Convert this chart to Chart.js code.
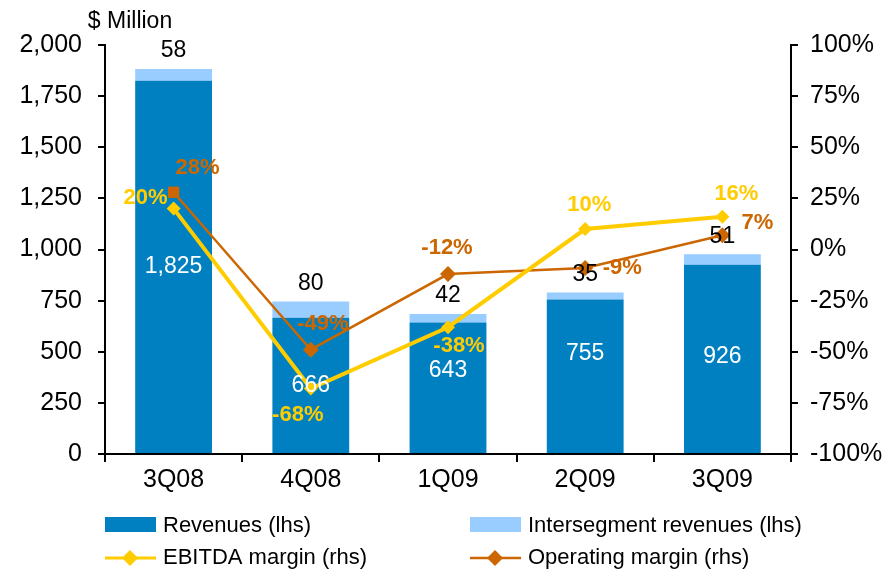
<!DOCTYPE html>
<html>
<head>
    <meta charset="utf-8">
    <title>Revenues and margins</title>
    <script src="https://cdn.jsdelivr.net/npm/chart.js"></script>
    <style>
        html, body { margin: 0; padding: 0; background: #fff; }
        #wrap { position: relative; width: 888px; height: 569px; }
    </style>
</head>
<body>
    <div id="wrap">
        <canvas id="marginChart" width="888" height="569"></canvas>
    </div>
    <script>
        // data
        var quarters = ['3Q08', '4Q08', '1Q09', '2Q09', '3Q09'];
        var revenues = [1825, 666, 643, 755, 926];
        var intersegment = [58, 80, 42, 35, 51];
        var ebitdaMargin = [20, -68, -38, 10, 16];
        var operatingMargin = [28, -49, -12, -9, 7];
        var leftTicks = [0, 250, 500, 750, 1000, 1250, 1500, 1750, 2000];
        var rightTicks = [-100, -75, -50, -25, 0, 25, 50, 75, 100];

        var FONT = "'Liberation Sans', Arial, sans-serif";
        var BLUE = '#0080C0';
        var LIGHT = '#99CCFF';
        var YELLOW = '#FFCC00';
        var ORANGE = '#CC6600';

        // label nudges (pixels), per point
        var revDy = [0, 0, -17, -23, -2];
        var ebitdaOff = [[-28, -11], [-13, 26], [11, 19], [4, -24], [14, -23]];
        var opOff = [[24, -24], [12, -26], [-1, -26], [37, 0], [35, -12]];

        function fmt(n) {
            return n.toLocaleString('en-US');
        }

        var labelPlugin = {
            id: 'labels',
            afterDatasetsDraw: function(chart) {
                var ctx = chart.ctx;
                ctx.save();
                ctx.textAlign = 'center';
                ctx.textBaseline = 'middle';

                var revMeta = chart.getDatasetMeta(0);
                var segMeta = chart.getDatasetMeta(1);
                ctx.font = '23px ' + FONT;
                revMeta.data.forEach(function(bar, i) {
                    ctx.fillStyle = '#fff';
                    ctx.fillText(fmt(revenues[i]), bar.x, (bar.y + bar.base) / 2 + revDy[i]);
                });
                segMeta.data.forEach(function(bar, i) {
                    ctx.fillStyle = '#000';
                    ctx.fillText(fmt(intersegment[i]), bar.x, bar.y - 18);
                });

                ctx.font = 'bold 22px ' + FONT;
                chart.getDatasetMeta(2).data.forEach(function(pt, i) {
                    ctx.fillStyle = YELLOW;
                    ctx.fillText(ebitdaMargin[i] + '%', pt.x + ebitdaOff[i][0], pt.y + ebitdaOff[i][1]);
                });
                chart.getDatasetMeta(3).data.forEach(function(pt, i) {
                    ctx.fillStyle = ORANGE;
                    ctx.fillText(operatingMargin[i] + '%', pt.x + opOff[i][0], pt.y + opOff[i][1]);
                });

                // axis unit
                ctx.fillStyle = '#000';
                ctx.font = '23px ' + FONT;
                ctx.fillText('$ Million', 130, 22);
                ctx.restore();
            }
        };

        var legendPlugin = {
            id: 'ownLegend',
            afterDraw: function(chart) {
                var ctx = chart.ctx;
                var items = [
                    { text: 'Revenues (lhs)', x: 105, y: 525, kind: 'box', color: BLUE },
                    { text: 'Intersegment revenues (lhs)', x: 470, y: 525, kind: 'box', color: LIGHT },
                    { text: 'EBITDA margin (rhs)', x: 105, y: 557, kind: 'line', color: YELLOW, w: 3 },
                    { text: 'Operating margin (rhs)', x: 470, y: 557, kind: 'line', color: ORANGE, w: 2.5 }
                ];
                ctx.save();
                items.forEach(function(it) {
                    if (it.kind === 'box') {
                        ctx.fillStyle = it.color;
                        ctx.fillRect(it.x, it.y - 8, 51, 15);
                    } else {
                        ctx.strokeStyle = it.color;
                        ctx.lineWidth = it.w;
                        ctx.beginPath();
                        ctx.moveTo(it.x, it.y + 1);
                        ctx.lineTo(it.x + 51, it.y + 1);
                        ctx.stroke();
                        ctx.fillStyle = it.color;
                        ctx.beginPath();
                        ctx.moveTo(it.x + 25, it.y - 7);
                        ctx.lineTo(it.x + 33, it.y + 1);
                        ctx.lineTo(it.x + 25, it.y + 9);
                        ctx.lineTo(it.x + 17, it.y + 1);
                        ctx.closePath();
                        ctx.fill();
                    }
                    ctx.fillStyle = '#000';
                    ctx.font = '22px ' + FONT;
                    ctx.textBaseline = 'middle';
                    ctx.textAlign = 'left';
                    ctx.fillText(it.text, it.x + 58, it.y + 1);
                });
                ctx.restore();
            }
        };

        var ctx = document.getElementById('marginChart').getContext('2d');
        var myChart = new Chart(ctx, {
            type: 'bar',
            data: {
                labels: quarters,
                datasets: [{
                    label: 'Revenues (lhs)',
                    data: revenues,
                    backgroundColor: BLUE,
                    stack: 'rev',
                    yAxisID: 'y',
                    order: 3,
                    barPercentage: 0.56,
                    categoryPercentage: 1
                }, {
                    label: 'Intersegment revenues (lhs)',
                    data: intersegment,
                    backgroundColor: LIGHT,
                    stack: 'rev',
                    yAxisID: 'y',
                    order: 3,
                    barPercentage: 0.56,
                    categoryPercentage: 1
                }, {
                    type: 'line',
                    label: 'EBITDA margin (rhs)',
                    data: ebitdaMargin,
                    borderColor: YELLOW,
                    backgroundColor: YELLOW,
                    borderWidth: 4,
                    pointStyle: 'rectRot',
                    pointRadius: 7,
                    pointBorderWidth: 0,
                    tension: 0,
                    yAxisID: 'y1',
                    order: 0
                }, {
                    type: 'line',
                    label: 'Operating margin (rhs)',
                    data: operatingMargin,
                    borderColor: ORANGE,
                    backgroundColor: ORANGE,
                    borderWidth: 2.5,
                    pointStyle: ['rect', 'rectRot', 'rectRot', 'rectRot', 'rectRot'],
                    pointRadius: 8,
                    pointBorderWidth: 0,
                    tension: 0,
                    yAxisID: 'y1',
                    order: 1
                }]
            },
            options: {
                responsive: false,
                animation: false,
                layout: { padding: { top: 45, left: 0, right: 0, bottom: 0 } },
                plugins: {
                    legend: { display: false },
                    tooltip: { enabled: false }
                },
                scales: {
                    x: {
                        offset: true,
                        grid: { offset: true, drawOnChartArea: false, color: '#000', tickLength: 8, lineWidth: 2 },
                        border: { color: '#000', width: 2 },
                        ticks: { color: '#000', font: { family: FONT, size: 25 }, padding: 3, maxRotation: 0 },
                        afterFit: function(scale) { scale.height = 115; }
                    },
                    y: {
                        position: 'left',
                        min: 0,
                        max: 2000,
                        afterBuildTicks: function(scale) {
                            scale.ticks = leftTicks.map(function(v) { return { value: v }; });
                        },
                        grid: { drawOnChartArea: false, color: '#000', tickLength: 7, lineWidth: 2 },
                        border: { color: '#000', width: 2 },
                        ticks: {
                            color: '#000',
                            font: { family: FONT, size: 25 },
                            padding: 16,
                            callback: function(v) { return fmt(v); }
                        },
                        afterFit: function(scale) { scale.width = 105; }
                    },
                    y1: {
                        position: 'right',
                        min: -100,
                        max: 100,
                        afterBuildTicks: function(scale) {
                            scale.ticks = rightTicks.map(function(v) { return { value: v }; });
                        },
                        grid: { drawOnChartArea: false, color: '#000', tickLength: 7, lineWidth: 2 },
                        border: { color: '#000', width: 2 },
                        ticks: {
                            color: '#000',
                            font: { family: FONT, size: 25 },
                            padding: 12,
                            callback: function(v) { return v + '%'; }
                        },
                        afterFit: function(scale) { scale.width = 97; }
                    }
                }
            },
            plugins: [labelPlugin, legendPlugin]
        });
    </script>
</body>
</html>
